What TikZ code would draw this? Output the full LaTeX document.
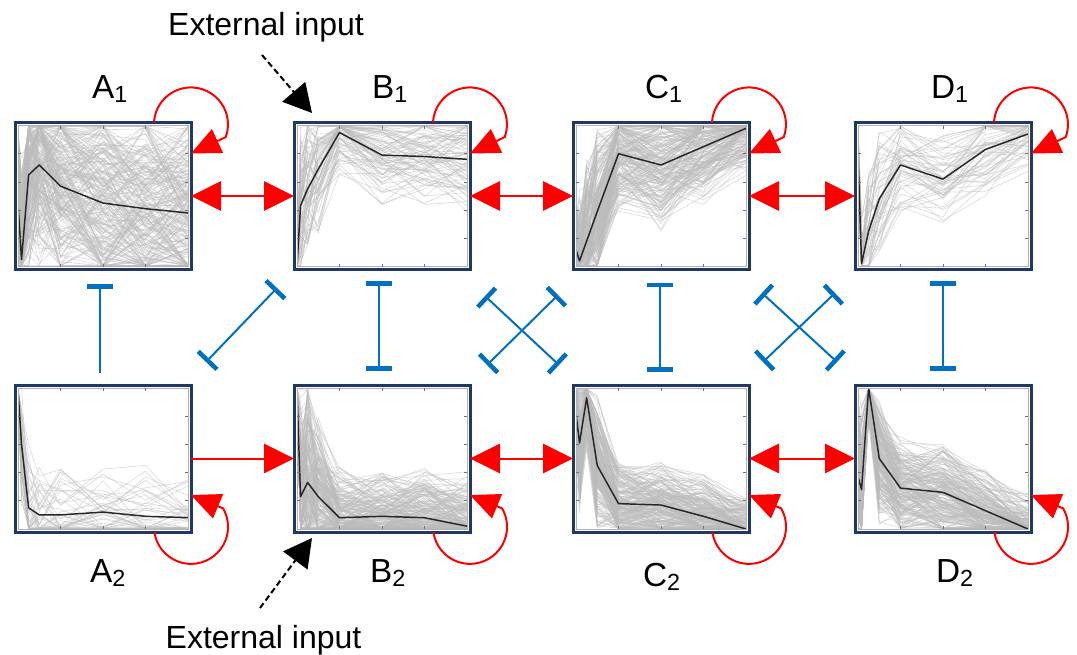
\documentclass[tikz,border=0pt]{standalone}
\usepackage{fontspec}
\setmainfont{Liberation Sans}
\usetikzlibrary{arrows.meta,calc}
\definecolor{navy}{RGB}{31,56,100}
\definecolor{inhblue}{RGB}{0,112,192}
\definecolor{actred}{RGB}{255,0,0}
\tikzset{
  panel/.style={draw=navy,line width=2.25pt,minimum width=132pt,minimum height=110.25pt,inner sep=0pt,outer sep=0pt},
  grayln/.style={draw=black!27,draw opacity=0.5,line width=0.5pt,line join=round},
  meanln/.style={draw=black!85,line width=1.1pt,line join=round},
  axln/.style={draw=black!30,line width=0.5pt},
  tick/.style={draw=black!55,line width=0.5pt},
  lab/.style={font=\fontsize{25pt}{30pt}\selectfont,inner sep=0pt,anchor=base},
  extlab/.style={font=\fontsize{24pt}{28pt}\selectfont,inner sep=0pt,anchor=base},
  act/.style={draw=actred,line width=1.5pt},
  bigtip/.tip={Triangle[length=22.5pt,width=22pt]},
  looptip/.tip={Triangle[length=22pt,width=19.5pt]},
  barTip/.tip={Bar[width=19.5pt,line width=3.4pt]},
  inh/.style={draw=inhblue,line width=1.5pt},
  ext/.style={draw=black,line width=1.5pt,dash pattern=on 4.5pt off 2.5pt,-{Triangle[length=21pt,width=22.5pt]}},
}
\newcommand\panelplot[8]{%
  \pgfmathsetseed{#8}%
  \begin{scope}[shift={(#2-85,#3-70.5)}]
    \begin{scope}
      \clip (0,0) rectangle (170,141);
      \foreach \i in {1,...,#7}{%
        \pgfmathsetmacro\off{0.7*rand}%
        \draw[grayln] (0,{141*(1-min(0.995,max(0.005,#4+#5*(\off+0.6*rand))))}) \foreach \t/\m/\s in {#6}{ -- ({\t*42.5},{141*(1-min(0.995,max(0.005,\m+\s*(\off+0.6*rand))))}) };
      }
      \draw[meanln] (0,{141*(1-#4)}) \foreach \t/\m/\s in {#6}{ -- ({\t*42.5},{141*(1-\m)}) };
    \end{scope}
    \draw[axln] (0,0) rectangle (170,141);
    \foreach \k in {1,2,3}{\draw[tick] ({\k*42.5},0) -- ++(0,3); \draw[tick] ({\k*42.5},141) -- ++(0,-3);}
    \foreach \k in {1,...,4}{\draw[tick] (0,{\k*28.2}) -- ++(3,0); \draw[tick] (170,{\k*28.2}) -- ++(-3,0);}
  \end{scope}
  \node[panel] (#1) at (#2,#3) {};
}
\begin{document}
\begin{tikzpicture}[x=0.75pt,y=-0.75pt]
\useasboundingbox (0,0) rectangle (1077,654);
% panels
\panelplot{A1}{103}{196}{0.45}{0.6}{0.083/0.05/0.6,0.25/0.65/0.6,0.5/0.72/0.6,1/0.57/0.6,2/0.45/0.6,3/0.41/0.6,4/0.38/0.6}{220}{11}
\panelplot{B1}{382}{196}{0.0}{0.1}{0.083/0.43/0.45,0.25/0.55/0.45,0.5/0.69/0.4,1/0.95/0.25,2/0.79/0.3,3/0.78/0.3,4/0.76/0.3}{80}{12}
\panelplot{C1}{661}{196}{0.12}{0.3}{0.083/0.04/0.4,0.25/0.18/0.5,0.5/0.39/0.5,1/0.80/0.35,2/0.72/0.4,3/0.85/0.35,4/0.98/0.3}{200}{13}
\panelplot{D1}{943}{196}{0.8}{0.3}{0.083/0.02/0.3,0.25/0.25/0.4,0.5/0.48/0.4,1/0.72/0.3,2/0.62/0.3,3/0.83/0.3,4/0.94/0.25}{55}{14}
\panelplot{A2}{103}{458.5}{0.99}{0.05}{0.083/0.6/0.4,0.25/0.15/0.4,0.5/0.1/0.35,1/0.1/0.35,2/0.12/0.3,3/0.09/0.3,4/0.08/0.3}{45}{15}
\panelplot{B2}{382}{458.5}{0.98}{0.1}{0.083/0.23/0.6,0.25/0.33/0.6,0.5/0.23/0.45,1/0.08/0.3,2/0.09/0.3,3/0.08/0.3,4/0.02/0.3}{210}{16}
\panelplot{C2}{661}{458.5}{0.82}{0.3}{0.083/0.61/0.4,0.25/0.93/0.3,0.5/0.45/0.4,1/0.18/0.25,2/0.17/0.25,3/0.09/0.25,4/0.0/0.2}{210}{17}
\panelplot{D2}{943}{458.5}{0.37}{0.5}{0.083/0.28/0.5,0.25/1.0/0.2,0.5/0.5/0.4,1/0.29/0.3,2/0.26/0.3,3/0.13/0.25,4/0.0/0.2}{210}{18}
% labels
\node[lab] (lA1) at (110,98) {A\textsubscript{1}};
\node[lab] (lB1) at (390,98) {B\textsubscript{1}};
\node[lab] (lC1) at (664,98) {C\textsubscript{1}};
\node[lab] (lD1) at (950,98) {D\textsubscript{1}};
\node[lab] (lA2) at (108,582) {A\textsubscript{2}};
\node[lab] (lB2) at (388,582) {B\textsubscript{2}};
\node[lab] (lC2) at (662,586) {C\textsubscript{2}};
\node[lab] (lD2) at (955,582) {D\textsubscript{2}};
% external inputs
\node[extlab] (ext1) at (266,35) {External input};
\node[extlab] (ext2) at (263.5,648) {External input};
\coordinate (e1s) at (262,55);
\coordinate (e2s) at (260,608);
\draw[ext] (e1s) -- ($(B1.north west)+(18,-9.5)$);
\draw[ext] (e2s) -- ($(B2.south west)+(18,6)$);
% activation arrows
\draw[act,bigtip-bigtip] (A1.east) -- (B1.west);
\draw[act,bigtip-bigtip] (B1.east) -- (C1.west);
\draw[act,bigtip-bigtip] (C1.east) -- (D1.west);
\draw[act,-bigtip] (A2.east) -- (B2.west);
\draw[act,bigtip-bigtip] (B2.east) -- (C2.west);
\draw[act,bigtip-bigtip] (C2.east) -- (D2.west);
% self loops
\foreach \p in {A1,B1,C1,D1}{
  \draw[act,-looptip] ($(\p.north east)+(-37,0)$) arc[start angle=183,end angle=380,radius=37] -- ($(\p.north east)+(0,31)$);
}
\foreach \p in {A2,B2,C2,D2}{
  \draw[act,-looptip] ($(\p.south east)+(-36.6,0)$) arc[start angle=172,end angle=-30,radius=37] -- ($(\p.south east)+(0,-37)$);
}
% inhibitory connectors
\draw[inh,barTip-,shorten <=11pt,shorten >=9pt] ($(A1.south)+(-3,0)$) -- ($(A2.north)+(-3,0)$);
\draw[inh,barTip-barTip,shorten <=8.6pt,shorten >=10.5pt] ($(B1.south)+(-3,0)$) -- ($(B2.north)+(-3,0)$);
\draw[inh,barTip-barTip,shorten <=10pt,shorten >=9.75pt] ($(C1.south)+(-1,0)$) -- ($(C2.north)+(-1,0)$);
\draw[inh,barTip-barTip,shorten <=8.6pt,shorten >=10.5pt] (D1.south) -- (D2.north);
\draw[inh,barTip-barTip] ($(A2.north east)+(15,-23)$) -- ($(B1.south west)+(-17,18.5)$);
\draw[inh,barTip-barTip] ($(B1.south east)+(15,26.5)$) -- ($(C2.north west)+(-14,-20)$);
\draw[inh,barTip-barTip] ($(C1.south west)+(-15,25.5)$) -- ($(B2.north east)+(17,-20)$);
\draw[inh,barTip-barTip] ($(C1.south east)+(13,23.5)$) -- ($(D2.north west)+(-18,-23)$);
\draw[inh,barTip-barTip] ($(D1.south west)+(-20,23.5)$) -- ($(C2.north east)+(14,-23)$);
\end{tikzpicture}
\end{document}
